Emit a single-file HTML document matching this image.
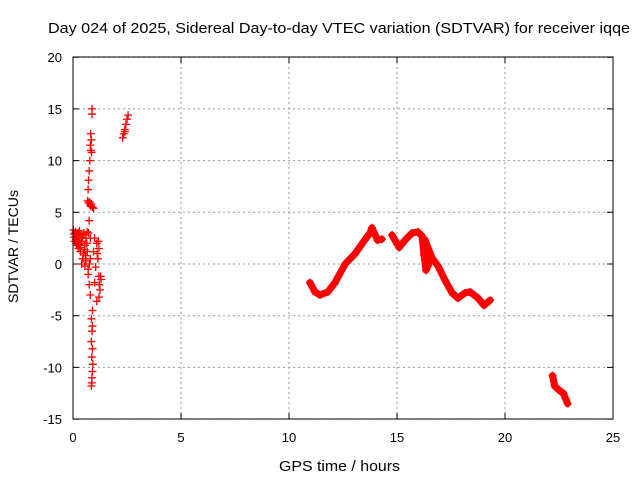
<!DOCTYPE html>
<html><head><meta charset="utf-8"><style>
body{margin:0;background:#fff;font-family:"Liberation Sans",sans-serif}
svg text{font-family:"Liberation Sans",sans-serif;font-size:13px;fill:#000}
</style></head><body>
<svg id="chart" width="640" height="480">
<text x="48" y="33" font-size="15" textLength="582" lengthAdjust="spacingAndGlyphs" style="font-size:15px">Day 024 of 2025, Sidereal Day-to-day VTEC variation (SDTVAR) for receiver iqqe</text>
<text x="279" y="471" textLength="121" lengthAdjust="spacingAndGlyphs" style="font-size:15px">GPS time / hours</text>
<text x="18" y="303" textLength="113" lengthAdjust="spacingAndGlyphs" transform="rotate(-90 18 303)" style="font-size:14px">SDTVAR / TECUs</text>
<g id="grid"></g><g id="marks"></g>
<rect x="73" y="57" width="540" height="362" fill="none" stroke="#000"/>
</svg>
<script>
const xTicks=[0,5,10,15,20,25];
const yTicks=[-15,-10,-5,0,5,10,15,20];
const scatterPts=[[0.88,15],[0.88,14.5],[0.82,12.6],[0.85,12.0],[0.8,11.5],[0.83,11],[0.86,10.8],[0.78,10],[0.75,9],[0.72,8.1],[0.7,7.2],[0.68,6.1],[0.72,5.9],[0.8,5.7],[0.9,5.5],[0.85,5.8],[0.75,4.2],[0.72,3.0],[0.8,2.5],
[0.02,3.3],[0.1,3.0],[0.2,2.8],[0.3,2.5],[0.15,2.0],[0.25,1.5],[0.4,2.2],[0.5,2.8],[0.6,2.5],[0.35,1.2],[0.45,0.5],[0.55,1.8],[0.05,2.6],[0.3,3.2],[0.5,3.0],[0.65,3.1],[0.4,0.0],[0.6,0.3],[0.7,-0.5],[0.8,0.5],[0.55,-0.2],[0.08,2.2],[0.18,2.6],[0.28,1.9],[0.38,2.9],[0.12,3.1],[0.22,2.3],
[0.04,2.9],[0.14,2.4],[0.24,3.0],[0.34,2.0],[0.44,2.6],[0.54,1.4],[0.64,2.0],[0.2,1.8],[0.32,1.6],[0.48,1.0],[0.58,0.8],[0.66,1.2],[0.76,0.0],[0.82,5.6],[0.78,6.0],[0.95,5.4],
[1.0,2.5],[1.1,2.0],[1.2,1.5],[1.15,0.5],[1.05,-0.3],[1.2,-1.2],[1.3,-1.5],[1.25,-2.5],[1.2,-3.2],[1.1,-3.6],[1.0,-1.8],[0.95,1.2],[1.18,2.2],[1.12,1.0],[1.28,-1.2],[1.22,-2.0],
[0.9,-4.5],[0.85,-5.3],[0.9,-6],[0.88,-6.5],[0.85,-7.5],[0.9,-8.2],[0.87,-9],[0.92,-9.7],[0.9,-10.4],[0.88,-11],[0.87,-11.5],[0.85,-11.8],[0.8,-3.0],[0.75,-2.0],[0.7,-1.0],
[2.3,12.2],[2.35,12.6],[2.4,13],[2.45,13.5],[2.5,14],[2.55,14.4],[2.4,12.8]];
const curveA=[[10.97,-1.8],[11.2,-2.7],[11.43,-3.0],[11.8,-2.7],[12.13,-1.8],[12.6,0],[13.06,1.0],[13.5,2.3],[13.75,3.0],[13.84,3.5],[14.1,2.3],[14.3,2.4]];
const curveB=[[14.77,2.8],[15.1,1.6],[15.37,2.3],[15.7,3.0],[15.97,3.1],[16.16,2.7],[16.25,0.9],[16.34,-0.6],[16.52,0.2],[16.39,1.35],[16.3,2.3],[16.62,0.6],[16.9,-0.2],[17.22,-1.55],[17.55,-2.8],[17.82,-3.3],[18.15,-2.8],[18.38,-2.7],[18.75,-3.3],[19.03,-4.0],[19.31,-3.5]];
const curveC=[[22.2,-10.8],[22.3,-11.8],[22.5,-12.2],[22.7,-12.5],[22.8,-13],[22.9,-13.5]];
const X=h=>73+h*21.6, Y=v=>264-v*10.34;
const NS="http://www.w3.org/2000/svg";
const grid=document.getElementById('grid'), marks=document.getElementById('marks');
function mk(t,a,p){const e=document.createElementNS(NS,t);for(const k in a)e.setAttribute(k,a[k]);p.appendChild(e);return e;}
xTicks.forEach(t=>{const x=X(t);
 const l=mk('line',{x1:x,x2:x,y1:57,y2:419,stroke:'#999','stroke-dasharray':'2,3'},grid);
 
 
 const tk=mk('path',{d:`M${x},419v-6M${x},57v6`,stroke:'#000'},grid);
 
 
 const tx=mk('text',{x:x,y:442,'text-anchor':'middle'},grid);tx.textContent=t;
 
 });
yTicks.forEach(t=>{const y=Y(t);
 const l=mk('line',{x1:73,x2:613,y1:y,y2:y,stroke:'#999','stroke-dasharray':'2,3'},grid);
 
 
 const tk=mk('path',{d:`M73,${y}h6M613,${y}h-6`,stroke:'#000'},grid);
 
 
 const tx=mk('text',{x:62,y:y+5,'text-anchor':'end'},grid);tx.textContent=t;
 
 });
function plus(h,v){const x=X(h),y=Y(v);
 const p=mk('path',{d:`M${x-4},${y}h8M${x},${y-4}v8`,stroke:'#f00','stroke-width':1.3},marks);
 
 }
scatterPts.forEach(p=>plus(p[0],p[1]));
[curveA,curveB,curveC].forEach(c=>{
 const pl=mk('polyline',{points:c.map(p=>X(p[0])+','+Y(p[1])).join(' '),fill:'none',stroke:'#f00','stroke-width':7,'stroke-linejoin':'round','stroke-linecap':'round'},marks);
 
 
 c.forEach(p=>plus(p[0],p[1]));});
</script>
</body></html>
